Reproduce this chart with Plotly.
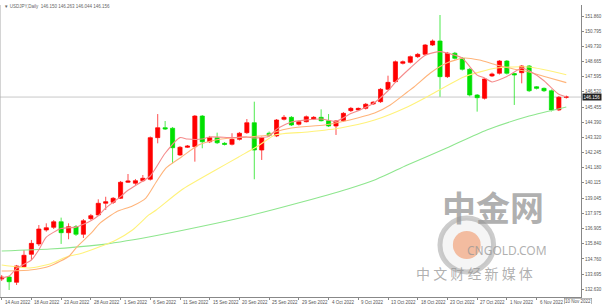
import plotly.graph_objects as go

# ---------------- data ----------------
dates = ["14 Aug 2022", "18 Aug 2022", "23 Aug 2022", "28 Aug 2022", "1 Sep 2022",
         "6 Sep 2022", "11 Sep 2022", "15 Sep 2022", "20 Sep 2022", "25 Sep 2022",
         "29 Sep 2022", "4 Oct 2022", "9 Oct 2022", "13 Oct 2022", "18 Oct 2022",
         "23 Oct 2022", "27 Oct 2022", "1 Nov 2022", "6 Nov 2022"]
last_date = "10 Nov 2022"

opens = [133.35, 133.49, 133.12, 134.22, 135.09, 135.82, 136.80, 136.99, 137.38, 136.61,
         137.03, 136.50, 137.60, 137.86, 138.68, 138.75, 139.03, 140.16, 140.09, 140.27,
         140.37, 143.30, 144.00, 143.96, 142.08, 142.62, 142.66, 144.82, 143.01, 143.30,
         142.90, 142.83, 143.18, 143.65, 144.35, 142.43, 143.61, 143.42, 144.59, 144.73,
         144.24, 144.42, 144.61, 144.73, 144.49, 144.12, 144.49, 145.20, 145.25, 145.36,
         145.67, 145.83, 146.70, 147.24, 148.53, 148.60, 149.00, 149.16, 149.82, 150.10,
         147.59, 149.24, 148.88, 148.11, 146.30, 146.07, 147.64, 147.83, 148.69, 147.81,
         147.87, 148.34, 146.88, 146.77, 146.60, 145.25, 146.150]
highs = [133.63, 133.56, 134.34, 135.39, 136.10, 137.15, 137.27, 137.50, 137.67, 137.27,
         137.15, 137.57, 137.93, 138.96, 139.14, 139.12, 140.25, 140.74, 140.39, 140.67,
         143.38, 144.96, 144.47, 144.05, 142.71, 142.78, 144.89, 144.89, 143.42, 143.65,
         142.99, 143.61, 143.70, 144.61, 145.83, 143.38, 143.73, 144.61, 144.89, 144.82,
         144.51, 144.86, 144.82, 145.29, 144.96, 144.54, 145.10, 145.46, 145.42, 145.74,
         145.88, 146.79, 147.66, 148.73, 148.73, 149.08, 149.26, 149.89, 150.21, 151.93,
         149.33, 149.33, 148.97, 148.20, 146.37, 147.50, 147.88, 148.76, 148.76, 147.85,
         148.41, 148.41, 146.93, 146.83, 146.69, 146.23, 146.263]
lows = [133.21, 132.58, 132.93, 134.13, 134.69, 135.67, 136.68, 136.87, 135.82, 136.15,
        136.38, 136.24, 137.50, 137.79, 138.21, 138.63, 138.98, 140.11, 139.97, 140.18,
        140.28, 142.90, 143.84, 141.49, 142.01, 142.57, 141.61, 142.55, 142.92, 142.85,
        142.75, 142.75, 143.10, 143.56, 140.37, 141.73, 143.38, 143.34, 144.51, 144.12,
        144.15, 144.37, 144.54, 144.44, 144.05, 143.49, 144.40, 145.10, 145.17, 145.28,
        145.60, 145.74, 146.65, 147.15, 148.45, 148.52, 148.90, 149.08, 149.75, 146.18,
        147.50, 148.80, 148.02, 146.20, 145.13, 145.98, 147.57, 147.74, 147.74, 145.60,
        147.12, 146.51, 146.69, 146.51, 145.14, 145.17, 146.044]
closes = [133.49, 133.16, 134.27, 135.02, 135.86, 136.87, 136.96, 137.38, 136.61, 137.03,
          136.50, 137.45, 137.81, 138.68, 138.79, 139.03, 140.16, 140.25, 140.27, 140.44,
          143.30, 144.00, 143.91, 142.59, 142.62, 142.71, 144.82, 143.01, 143.30, 142.94,
          142.83, 143.18, 143.61, 144.35, 142.43, 143.30, 143.46, 144.54, 144.73, 144.19,
          144.42, 144.77, 144.73, 144.49, 144.12, 144.47, 145.01, 145.36, 145.36, 145.65,
          145.79, 146.70, 147.19, 148.64, 148.64, 149.00, 149.16, 149.82, 150.10, 147.59,
          149.24, 148.88, 148.11, 146.30, 146.11, 147.43, 147.78, 148.69, 147.83, 147.71,
          148.34, 146.60, 146.77, 146.60, 145.25, 146.14, 146.156]

# moving averages (bar position, price)
ma_fast_x = [0, 1, 2, 4, 5, 6, 8, 10, 11, 12, 13, 14, 16, 17, 19, 20, 22, 24, 25, 27, 28, 31,
             33, 34, 36, 37, 39, 41, 43, 45, 47, 48, 50, 52, 53, 55, 57, 59, 61, 62, 64, 65,
             66, 68, 70, 71, 73, 74, 75, 76]
ma_fast = [133.42, 133.56, 134.10, 134.69, 135.40, 136.30, 136.90, 137.00, 137.20, 137.45,
           137.80, 138.35, 139.15, 139.60, 140.25, 140.60, 142.20, 143.30, 143.20, 143.20,
           143.35, 143.30, 143.35, 143.27, 143.40, 143.90, 144.40, 144.54, 144.61, 144.45,
           145.00, 145.20, 145.70, 146.60, 147.20, 148.20, 149.10, 149.35, 149.10, 148.90,
           147.70, 147.50, 147.22, 147.60, 148.20, 148.00, 147.30, 146.80, 146.35, 146.16]

ma_mid_x = [0, 3.8, 6.5, 9.1, 10.1, 12.2, 13.1, 15.4, 17.6, 19.4, 20.8, 22.1, 24.2, 26.5,
            28.8, 30.9, 33.2, 35.9, 36.8, 39.0, 43.5, 45.6, 47.9, 50.2, 52.3, 54.6, 55.5,
            57.7, 59.9, 62.2, 64.3, 66.6, 68.9, 71.0, 73.3, 76]
ma_mid = [133.91, 133.99, 134.27, 134.97, 135.60, 136.66, 137.22, 138.07, 138.49, 139.05,
          140.18, 141.16, 141.94, 142.78, 143.13, 143.27, 143.35, 143.49, 143.70, 143.98,
          144.19, 144.40, 144.68, 145.03, 145.60, 146.51, 146.86, 147.85, 148.55, 148.90,
          148.76, 148.41, 148.13, 147.92, 147.57, 147.17]

ma_slow_x = [0, 3.8, 6.5, 8.7, 10.9, 13.1, 15.4, 17.6, 19.8, 20.8, 24.2, 28.8, 31.9, 34.5,
             36.8, 41.2, 45.6, 50.2, 54.6, 57.7, 62.2, 66.6, 71.0, 76]
ma_slow = [134.34, 134.13, 134.41, 134.90, 135.18, 135.60, 136.10, 136.80, 137.86, 138.21,
           139.62, 141.02, 141.94, 142.71, 143.49, 143.70, 143.98, 144.54, 145.46, 146.30,
           147.57, 148.20, 148.27, 147.73]

ma_long_x = [0, 6.5, 13.1, 19.8, 26.5, 33.2, 39.9, 46.6, 50.2, 54.6, 59.9, 65.3, 71.0, 76]
ma_long = [135.32, 135.46, 135.75, 136.31, 137.01, 137.79, 138.70, 139.69, 140.32, 141.37,
           142.57, 143.84, 144.82, 145.46]

price_ticks = [151.860, 150.795, 149.730, 148.665, 147.595, 146.520, 145.455, 144.390,
               143.320, 142.245, 141.180, 140.115, 139.045, 137.975, 136.905, 135.840,
               134.760, 133.695, 132.630]
last_price = 146.156
title_text = "▼ USDJPY,Daily  146.150 146.263 146.044 146.156"

# ---------------- figure ----------------
n = len(opens)
xs = list(range(n))
date_pos = [4 * i for i in range(len(dates))]

fig = go.Figure()

lines = [
    (ma_long_x, ma_long, "#8EE68E"),
    (ma_slow_x, ma_slow, "#FFF27A"),
    (ma_mid_x, ma_mid, "#FFB47A"),
    (ma_fast_x, ma_fast, "#F58C8C"),
]
for lx, ly, col in lines:
    fig.add_trace(go.Scatter(x=lx, y=ly, mode="lines", line=dict(color=col, width=1.1, shape="spline", smoothing=0.6),
                             hoverinfo="skip", showlegend=False))

fig.add_trace(go.Candlestick(
    x=xs, open=opens, high=highs, low=lows, close=closes,
    increasing=dict(line=dict(color="#FF0000", width=0.7), fillcolor="#FF0000"),
    decreasing=dict(line=dict(color="#00E000", width=0.7), fillcolor="#00E000"),
    whiskerwidth=0, showlegend=False,
))

FONT = "Liberation Sans, Arial, sans-serif"
annotations = []
for p, d in zip(date_pos, dates):
    annotations.append(dict(x=p, y=0, xref="x", yref="paper", text=d, showarrow=False,
                            xanchor="left", yanchor="top", yshift=-1, xshift=1,
                            font=dict(size=4.5, color="#555555", family=FONT)))
annotations.append(dict(x=n - 1, y=0, xref="x", yref="paper", text=last_date, showarrow=False,
                        xanchor="left", yanchor="top", yshift=-1, xshift=-2,
                        bordercolor="#888888", borderwidth=0.6, borderpad=0.5, bgcolor="white",
                        font=dict(size=4.5, color="#555555", family=FONT)))
annotations.append(dict(x=1, y=last_price, xref="paper", yref="y", text=f"{last_price:.3f}",
                        showarrow=False, xanchor="left", yanchor="middle", xshift=1,
                        bgcolor="#222222", borderpad=0.5,
                        font=dict(size=4.5, color="white", family=FONT)))
annotations.append(dict(x=0, y=1, xref="paper", yref="paper", text=title_text, showarrow=False,
                        xanchor="left", yanchor="top", xshift=2, yshift=3,
                        font=dict(size=4.5, color="#666666", family=FONT)))
# watermark
WM = "rgba(150,150,150,0.75)"
annotations.append(dict(x=550, y=233, xref="paper", yref="paper", text="<b>中金网</b>", showarrow=False,
                        font=dict(size=34, color=WM, family="Noto Sans CJK SC")))
annotations.append(dict(x=553, y=261, xref="paper", yref="paper", text="CNGOLD.COM", showarrow=False,
                        font=dict(size=12, color=WM, family="Noto Sans, sans-serif")))
annotations.append(dict(x=539, y=285, xref="paper", yref="paper", text="中 文 财 经 新 媒 体", showarrow=False,
                        font=dict(size=14, color=WM, family="Noto Sans CJK SC")))

fig.update_layout(
    width=602, height=304,
    margin=dict(l=0, r=17, t=5, b=7),
    paper_bgcolor="white", plot_bgcolor="white",
    showlegend=False, boxgap=0.2,
    annotations=annotations,
    xaxis=dict(range=[-0.23, 77.98], showgrid=False, zeroline=False, rangeslider=dict(visible=False),
               tickvals=date_pos + [n - 1], showticklabels=False, ticks="outside", ticklen=2,
               tickcolor="#888888", showline=True, linecolor="#888888", linewidth=1),
    yaxis=dict(range=[132.085, 152.634], side="right", showgrid=False, zeroline=False,
               tickvals=price_ticks, ticktext=[f"{v:.3f}" for v in price_ticks],
               ticks="outside", ticklen=2, tickcolor="#888888",
               tickfont=dict(size=4.5, color="#555555", family=FONT),
               showline=True, linecolor="#888888", linewidth=1),
    shapes=[
        dict(type="line", xref="paper", yref="y", x0=0, x1=1, y0=last_price, y1=last_price,
             line=dict(color="#C8C8C8", width=1), layer="below"),
        dict(type="line", xref="paper", yref="paper", x0=0, x1=0, y0=0, y1=1,
             line=dict(color="#AAAAAA", width=1)),
    ],
)

# convert watermark positions (given as pixels) to paper coords
pw, ph = 602 - 0 - 17, 304 - 5 - 7
for a in fig.layout.annotations:
    if a.xref == "paper" and a.yref == "paper" and a.x > 1:
        a.x = a.x / pw
        a.y = 1 - (a.y - 5) / ph

# logo (circle) in pixel-converted paper coords
cx, cy, r = 470 / pw, 1 - (245 - 5) / ph, 27
fig.add_shape(type="circle", xref="paper", yref="paper",
              x0=cx - r / pw, x1=cx + r / pw, y0=cy - r / ph, y1=cy + r / ph,
              line=dict(color="rgba(170,170,170,0.6)", width=5), fillcolor="rgba(235,235,235,0.5)")
r2 = 14
fig.add_shape(type="circle", xref="paper", yref="paper",
              x0=cx - r2 / pw, x1=cx + r2 / pw, y0=cy - r2 / ph, y1=cy + r2 / ph,
              line=dict(width=0), fillcolor="rgba(240,140,90,0.55)")

fig.write_html("out.html")
